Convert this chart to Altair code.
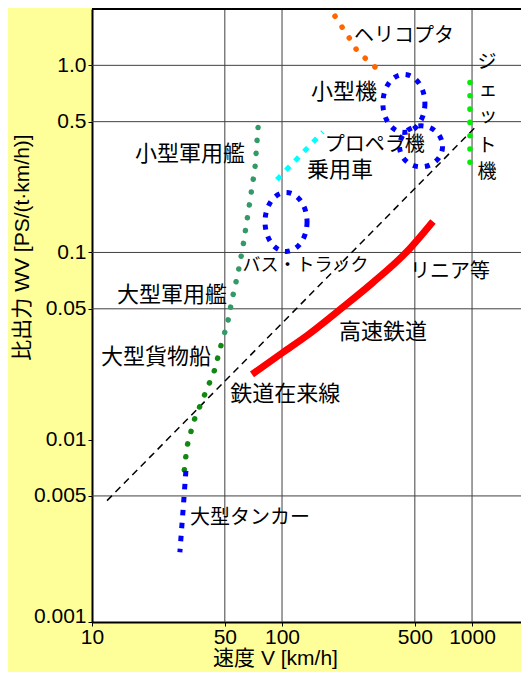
import altair as alt
import pandas as pd

# ---------------- data ----------------
X_DOMAIN = [10, 1810]
Y_DOMAIN = [0.00106, 2.0]
X_TICKS = [10, 50, 100, 500, 1000]
Y_TICKS = [0.00106, 0.005, 0.01, 0.05, 0.1, 0.5, 1.0]
Y_TICK_LABELS = ["0.001", "0.005", "0.01", "0.05", "0.1", "0.5", "1.0"]
GRID_X = [50, 100, 500, 1000]
GRID_Y = [0.005, 0.05, 0.1, 0.5, 1.0]
TOP_EDGE = [Y_DOMAIN[1]]

HELI_V = [190, 207, 228, 248, 277, 316]
HELI_WV = [1.83, 1.60, 1.38, 1.20, 1.08, 0.96]
JET_V = [975, 975]
JET_WV = [0.81, 0.30]
CAR_V = [94, 164]
CAR_WV = [0.245, 0.44]
TANKER_V = [31.2, 30.3, 29.0]
TANKER_WV = [0.0068, 0.0045, 0.0025]
SMALL_NAVY_V = [74.8, 72.1, 67.0, 62.3, 58.6, 54.6, 51.4, 48.9]
SMALL_NAVY_WV = [0.466, 0.285, 0.174, 0.1077, 0.0772, 0.0561, 0.0407, 0.0351]
CARGO_V = [47.7, 43.9, 38.8, 34.4, 31.6, 30.5]
CARGO_WV = [0.0318, 0.0231, 0.0170, 0.01264, 0.00918, 0.00667]
RAIL_V = [69.5, 101, 135.5, 202, 301, 455, 623]
RAIL_WV = [0.0223, 0.0292, 0.0360, 0.0496, 0.0691, 0.1012, 0.1465]
REF_V = [12.0, 1038]
REF_WV = [0.00472, 0.466]
ELLIPSE_NAMES = ["小型機", "プロペラ機", "バス・トラック"]
ELLIPSE_V = [438, 539, 105]
ELLIPSE_WV = [0.626, 0.369, 0.1456]

KANJI_LABELS = ["小型軍用艦", "大型軍用艦", "大型貨物船", "鉄道在来線", "高速鉄道", "乗用車", "小型機"]
KANJI_V = [32.8, 26.4, 21.7, 104, 340, 202, 212]
KANJI_WV = [0.334, 0.0596, 0.0275, 0.0176, 0.0378, 0.276, 0.717]
KANA_LABELS = ["ヘリコプタ", "プロペラ機", "リニア等", "大型タンカー"]
KANA_V = [438, 308, 766, 67.9]
KANA_WV = [1.43, 0.375, 0.0791, 0.00383]
NARROW_LABELS = ["バス・トラック"]
NARROW_V = [133]
NARROW_WV = [0.0842]
JET_CHARS = ["ジ", "ェ", "ッ", "ト", "機"]
JET_CHAR_V = [1200, 1215, 1215, 1200, 1200]
JET_CHAR_WV = [1.037, 0.735, 0.533, 0.372, 0.270]

# ---------------- styles ----------------
BLUE = "#0000FF"
ELLIPSE_RADII = {"小型機": (0.70, 0.967), "プロペラ機": (0.717, 0.683), "バス・トラック": (0.70, 0.983)}


def ellipse_path(rx, ry):
    k = 0.5523
    return (f"M {rx} 0 C {rx} {k*ry} {k*rx} {ry} 0 {ry} "
            f"C {-k*rx} {ry} {-rx} {k*ry} {-rx} 0 "
            f"C {-rx} {-k*ry} {-k*rx} {-ry} 0 {-ry} "
            f"C {k*rx} {-ry} {rx} {-k*ry} {rx} 0 Z")


def ylabel_expr():
    expr = "''"
    for v, lab in reversed(list(zip(Y_TICKS, Y_TICK_LABELS))):
        expr = f"(abs(datum.value - {v}) < {v * 0.01}) ? '{lab}' : ({expr})"
    return expr


xs = alt.Scale(type="log", domain=X_DOMAIN, nice=False)
ys = alt.Scale(type="log", domain=Y_DOMAIN, nice=False)

TITLE_FONT = "Liberation Sans, Noto Sans CJK JP"
x_axis = alt.Axis(
    values=X_TICKS, labelExpr="format(datum.value, 'd')", title="速度 V [km/h]",
    grid=False, domain=True, domainColor="black", domainWidth=2,
    tickSize=4, tickColor="black", labelPadding=0,
    labelFont="Liberation Sans", labelFontSize=21, labelColor="black",
    labelFlush=False, labelOverlap=False, labelAngle=0,
    titleFont=TITLE_FONT, titleFontSize=21, titleFontWeight="normal", titleColor="black",
    titleX=183, titleY=36, titleAlign="center", titleBaseline="middle",
)
y_axis = alt.Axis(
    values=Y_TICKS, labelExpr=ylabel_expr(), title="比出力 WV [PS/(t·km/h)]",
    grid=False, domain=True, domainColor="black", domainWidth=2,
    tickSize=4, tickColor="black", labelPadding=2,
    labelFont="Liberation Sans", labelFontSize=21, labelColor="black",
    labelFlush=False, labelOverlap=False,
    labelBaseline={"condition": {"test": "datum.value < 0.002", "value": "alphabetic"}, "value": "middle"},
    titleFont=TITLE_FONT, titleFontSize=21, titleFontWeight="normal", titleColor="black",
    titleX=-70, titleY=238, titleAngle=270, titleAlign="center", titleBaseline="middle",
)

X = alt.X("V:Q", scale=xs, axis=x_axis)
Y = alt.Y("WV:Q", scale=ys, axis=y_axis)


def series(v, w):
    return pd.DataFrame({"V": v, "WV": w, "i": list(range(len(v)))})


def line(v, w, **mark):
    return alt.Chart(series(v, w)).mark_line(**mark).encode(x=X, y=Y, order="i:Q")


layers = []
layers.append(alt.Chart(pd.DataFrame({"V": GRID_X})).mark_rule(color="#404040", strokeWidth=1).encode(x=X))
layers.append(alt.Chart(pd.DataFrame({"WV": GRID_Y})).mark_rule(color="#404040", strokeWidth=1).encode(y=Y))
layers.append(alt.Chart(pd.DataFrame({"WV": TOP_EDGE})).mark_rule(color="black", strokeWidth=2).encode(y=Y))

layers.append(line(REF_V, REF_WV, color="black", strokeWidth=1.5, strokeDash=[7, 5]))
layers.append(line(RAIL_V, RAIL_WV, color="#FF0000", strokeWidth=7, interpolate="monotone"))

dots = dict(strokeWidth=5.5, strokeCap="round", strokeDash=[0.1, 12.9])
layers.append(line(HELI_V, HELI_WV, color="#FF6600", **dots))
layers.append(line(JET_V, JET_WV, color="#00EE00", strokeWidth=5.5, strokeCap="round", strokeDash=[0.1, 13.2]))
layers.append(line(SMALL_NAVY_V, SMALL_NAVY_WV, color="#339966", **dots))
layers.append(line(CARGO_V, CARGO_WV, color="#118811", **dots))

squares = dict(strokeWidth=5, strokeCap="butt", strokeDash=[5.5, 7.5])
layers.append(line(TANKER_V, TANKER_WV, color=BLUE, **squares))
layers.append(line(CAR_V, CAR_WV, color="#00FFFF", **squares))

for name, v, w in zip(ELLIPSE_NAMES, ELLIPSE_V, ELLIPSE_WV):
    rx, ry = ELLIPSE_RADII[name]
    layers.append(
        alt.Chart(pd.DataFrame({"V": [v], "WV": [w]})).mark_point(
            shape=ellipse_path(rx, ry), size=3600, filled=False, color=BLUE,
            strokeWidth=5, strokeDash=[5, 7], opacity=1,
        ).encode(x=X, y=Y)
    )

text_style = dict(font="Noto Sans CJK JP", color="black", align="center", baseline="middle")
layers.append(
    alt.Chart(pd.DataFrame({"V": KANJI_V, "WV": KANJI_WV, "label": KANJI_LABELS}))
    .mark_text(fontSize=22, **text_style).encode(x=X, y=Y, text="label:N")
)
layers.append(
    alt.Chart(pd.DataFrame({"V": KANA_V, "WV": KANA_WV, "label": KANA_LABELS}))
    .mark_text(fontSize=20, **text_style).encode(x=X, y=Y, text="label:N")
)
layers.append(
    alt.Chart(pd.DataFrame({"V": NARROW_V, "WV": NARROW_WV, "label": NARROW_LABELS}))
    .mark_text(fontSize=18, **text_style).encode(x=X, y=Y, text="label:N")
)
layers.append(
    alt.Chart(pd.DataFrame({"V": JET_CHAR_V, "WV": JET_CHAR_WV, "label": JET_CHARS}))
    .mark_text(fontSize=19, **text_style).encode(x=X, y=Y, text="label:N")
)

chart = (
    alt.layer(*layers)
    .properties(
        width=429, height=613, background="#FFFF99",
        padding={"left": 84, "top": 1, "right": 0, "bottom": 50},
        autosize=alt.AutoSizeParams(type="none"),
    )
    .configure_view(fill="white", strokeWidth=0)
)

chart.save("out.html", embed_options={"renderer": "svg", "actions": False})
